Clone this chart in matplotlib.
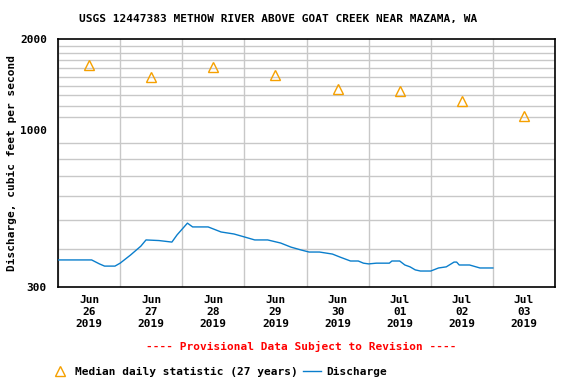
import numpy as np
import pandas as pd
import matplotlib
matplotlib.use('Agg')
import matplotlib.pyplot as plt
import matplotlib.ticker as mticker
import matplotlib.dates as mdates
from matplotlib.lines import Line2D

start = pd.Timestamp('2019-06-26 00:00')

# discharge: hours after start, cfs
q_hours = [0, 13, 16, 18, 22, 24, 28, 32, 34, 39, 44, 46, 50, 52, 58, 63, 68,
           72, 76, 81, 86, 90, 94, 97, 101, 106, 109, 113, 116, 118, 120, 123,
           128, 129, 132, 134, 136, 138, 140, 144, 147, 150, 153, 154, 155,
           159, 163, 168]
q_cfs = [369, 369, 358, 352, 352, 360, 383, 410, 430, 428, 423, 447, 489, 475,
         475, 457, 450, 440, 430, 430, 420, 407, 398, 392, 392, 386, 377, 366,
         366, 360, 358, 360, 360, 366, 366, 355, 350, 342, 339, 339, 347, 350,
         363, 363, 355, 355, 347, 347]

# median daily statistic (27 years), one per day at noon
med_days = ['2019-06-26', '2019-06-27', '2019-06-28', '2019-06-29',
            '2019-06-30', '2019-07-01', '2019-07-02', '2019-07-03']
med_cfs = [1640, 1495, 1614, 1519, 1365, 1343, 1245, 1109]

font = 'DejaVu Sans Mono'
plt.rcParams['font.family'] = font
plt.rcParams['font.weight'] = 'bold'

fig = plt.figure(figsize=(5.76, 3.84), dpi=100)
ax = fig.add_axes([58 / 576, 1 - 287 / 384, 497 / 576, 248 / 384])

q_time = start + pd.to_timedelta(q_hours, unit='h')
med_time = pd.to_datetime(med_days) + pd.Timedelta(hours=12)

ax.plot(q_time, q_cfs, color='#0a7ecc', lw=1.0, zorder=3)
ax.plot(med_time, med_cfs, ls='none', marker='^', ms=7, mfc='none',
        mec='#f5a000', mew=1.0, zorder=4)

ax.set_yscale('log')
ax.set_ylim(300, 2000)
ax.set_xlim(start, start + pd.Timedelta(days=8))

ax.yaxis.set_major_locator(mticker.FixedLocator([300, 1000, 2000]))
ax.yaxis.set_major_formatter(mticker.FixedFormatter(['300', '1000', '2000']))
ax.yaxis.set_minor_locator(mticker.FixedLocator(np.arange(300, 2001, 100)))
ax.yaxis.set_minor_formatter(mticker.NullFormatter())

ax.xaxis.set_major_locator(mticker.FixedLocator(mdates.date2num(med_time)))
ax.xaxis.set_major_formatter(mticker.FixedFormatter(
    [t.strftime('%b\n%d\n%Y') for t in med_time]))
ax.xaxis.set_minor_locator(mdates.DayLocator())

ax.grid(True, which='minor', color='#c8c8c8', lw=1.0)
ax.tick_params(which='both', length=0, labelsize=8, pad=6)
ax.tick_params(axis='y', pad=8)
for lbl in ax.get_xticklabels() + ax.get_yticklabels():
    lbl.set_fontweight('bold')
for s in ax.spines.values():
    s.set_linewidth(1.2)

ax.set_ylabel('Discharge, cubic feet per second', fontsize=8,
              fontweight='bold')
ax.yaxis.set_label_coords(-0.083, 0.5)

fig.text(278 / 576, 1 - 19 / 384,
         'USGS 12447383 METHOW RIVER ABOVE GOAT CREEK NEAR MAZAMA, WA',
         ha='center', va='center', fontsize=8, fontweight='bold')
fig.text(301 / 576, 1 - 346 / 384,
         '---- Provisional Data Subject to Revision ----',
         ha='center', va='center', fontsize=8, fontweight='bold',
         color='#ff0000')

handles = [Line2D([], [], ls='none', marker='^', ms=7, mfc='none',
                  mec='#f5a000', mew=1.0),
           Line2D([], [], color='#0a7ecc', lw=1.0)]
fig.legend(handles, ['Median daily statistic (27 years)', 'Discharge'],
           loc='center left', bbox_to_anchor=(46 / 576, 1 - 372 / 384),
           ncol=2, frameon=False, handlelength=1.6,
           handletextpad=0.5, columnspacing=0.5, borderpad=0,
           prop={'family': font, 'weight': 'bold', 'size': 8})

fig.savefig('out.png', dpi=100)
